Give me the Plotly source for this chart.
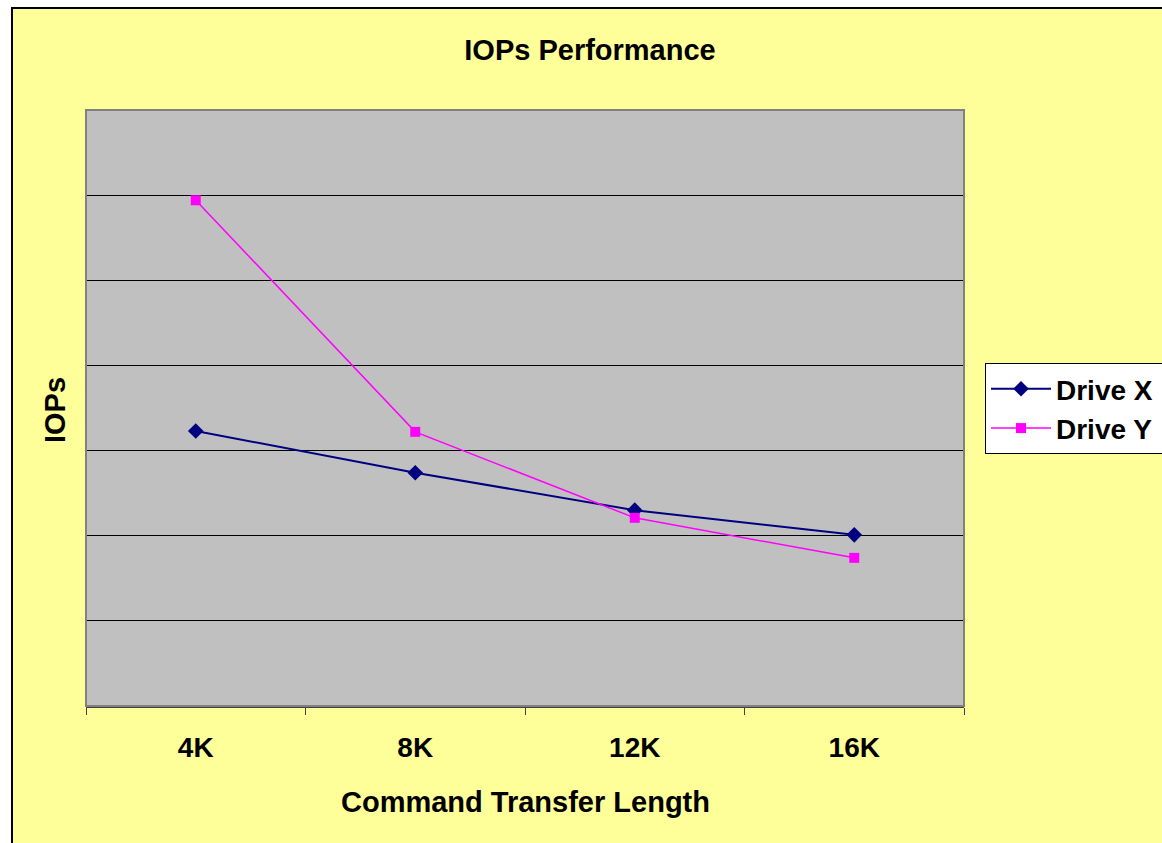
import plotly.graph_objects as go

categories = ["4K", "8K", "12K", "16K"]
drive_x = [3230, 2740, 2300, 2010]
drive_y = [5940, 3220, 2210, 1740]

W, H = 1162, 843
L, R, T, B = 86, 964, 110, 706

def px(x):  # page x -> paper
    return (x - L) / (R - L)

def py(y):  # page y -> paper
    return (B - y) / (B - T)

fig = go.Figure()
fig.add_trace(go.Scatter(x=categories, y=drive_x, name="<b>Drive X</b>&nbsp;", mode="lines+markers",
                         line=dict(color="#000080", width=2),
                         marker=dict(symbol="diamond", size=12, color="#000080")))
fig.add_trace(go.Scatter(x=categories, y=drive_y, name="<b>Drive Y</b>&nbsp;", mode="lines+markers",
                         line=dict(color="#FF00FF", width=1.5),
                         marker=dict(symbol="square", size=10, color="#FF00FF")))

font = "Liberation Sans, Arial, sans-serif"
FS = 28
fig.update_layout(
    width=W, height=H,
    margin=dict(l=L, r=W - R, t=T, b=H - B, autoexpand=False),
    paper_bgcolor="#FFFF99",
    plot_bgcolor="#C0C0C0",
    font=dict(family=font, color="black"),
    title=dict(text="<b>IOPs Performance</b>", x=590 / W, xref="container", xanchor="center",
               y=1 - 50 / H, yref="container", yanchor="middle", font=dict(size=29)),
    xaxis=dict(type="category", range=[-0.5, 3.5], showgrid=False, showline=True,
               linecolor="#404040", linewidth=2, ticks="outside", tickson="boundaries",
               ticklen=7, tickcolor="#404040", tickfont=dict(size=FS, family=font),
               tickprefix="<b>", ticksuffix="</b>", zeroline=False, ticklabelstandoff=15),
    yaxis=dict(range=[0, 7000], dtick=1000, showgrid=True, gridcolor="black", gridwidth=1,
               showticklabels=False, zeroline=False, showline=False),
    legend=dict(x=px(985), y=py(363), xanchor="left", yanchor="top",
                bgcolor="white", bordercolor="black", borderwidth=1, itemwidth=60,
                font=dict(size=FS, family=font), tracegroupgap=4),
    showlegend=True,
)

shapes = [
    dict(type="rect", xref="paper", yref="paper", x0=px(-20), x1=px(1200), y0=py(7), y1=py(-20),
         fillcolor="white", line=dict(width=0), layer="above"),
    dict(type="rect", xref="paper", yref="paper", x0=px(-20), x1=px(12), y0=py(900), y1=py(7),
         fillcolor="white", line=dict(width=0), layer="above"),
    dict(type="line", xref="paper", yref="paper", x0=px(12), x1=px(1200), y0=py(8), y1=py(8),
         line=dict(color="black", width=2), layer="above"),
    dict(type="line", xref="paper", yref="paper", x0=px(12), x1=px(12), y0=py(7), y1=py(900),
         line=dict(color="black", width=2), layer="above"),
    # plot area border
    dict(type="rect", xref="paper", yref="paper", x0=0, x1=1, y0=0, y1=1,
         line=dict(color="#808080", width=2), layer="above"),
]
fig.update_layout(shapes=shapes)

fig.add_annotation(text="<b>Command Transfer Length</b>", xref="paper", yref="paper",
                   x=px(525), y=py(802), xanchor="center", yanchor="middle", showarrow=False,
                   font=dict(size=29, family=font))
fig.add_annotation(text="<b>IOPs</b>", xref="paper", yref="paper",
                   x=px(55), y=py(410), xanchor="center", yanchor="middle", showarrow=False,
                   textangle=-90, font=dict(size=29, family=font))

fig.write_html("out.html", config={"displayModeBar": False},
               post_script="document.body.style.margin='0px';document.body.style.overflow='hidden';")
